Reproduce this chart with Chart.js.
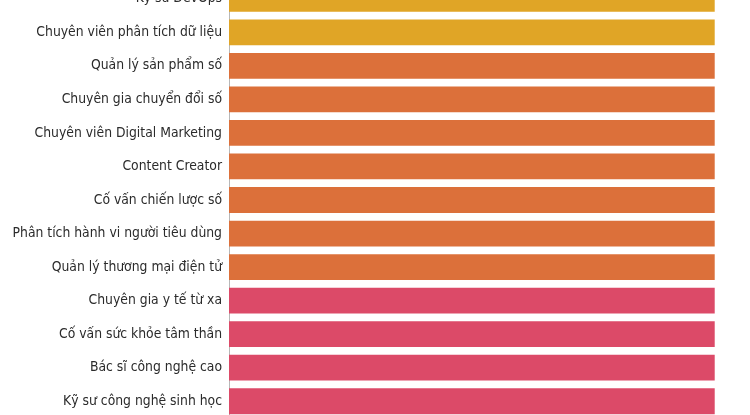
<!DOCTYPE html>
<html>
<head>
<meta charset="utf-8">
<script src="https://cdn.jsdelivr.net/npm/chart.js@4/dist/chart.umd.min.js"></script>
<style>
  html, body { margin: 0; padding: 0; background: #fff; }
  #frame { position: relative; width: 750px; height: 415px; overflow: hidden; background: #fff; }
  #box { position: absolute; left: 0; top: -18px; width: 739px; height: 436px; }
</style>
</head>
<body>
<div id="frame">
  <div id="box"><canvas id="jobs"></canvas></div>
</div>
<script>
// jobs visible in the cropped part of the chart, top to bottom
const jobs = [
  'Kỹ sư DevOps',
  'Chuyên viên phân tích dữ liệu',
  'Quản lý sản phẩm số',
  'Chuyên gia chuyển đổi số',
  'Chuyên viên Digital Marketing',
  'Content Creator',
  'Cố vấn chiến lược số',
  'Phân tích hành vi người tiêu dùng',
  'Quản lý thương mại điện tử',
  'Chuyên gia y tế từ xa',
  'Cố vấn sức khỏe tâm thần',
  'Bác sĩ công nghệ cao',
  'Kỹ sư công nghệ sinh học'
];
const jobValues = [100, 100, 100, 100, 100, 100, 100, 100, 100, 100, 100, 100, 100];
const jobGroups = ['it', 'it', 'digital', 'digital', 'digital', 'digital', 'digital', 'digital', 'digital', 'health', 'health', 'health', 'health'];

const groupColor = { it: '#E0A526', digital: '#DC703A', health: '#DC4A68' };

// drop the extra room Chart.js keeps for half a label above/below the axis
const noEdgePad = (scale) => {
  scale.paddingTop = 0;
  scale.paddingBottom = 0;
};

let ctx = document.getElementById('jobs').getContext('2d');

let myChart = new Chart(ctx, {
  type: 'bar',
  data: {
    labels: jobs,
    datasets: [{
      data: jobValues,
      backgroundColor: jobGroups.map((g) => groupColor[g]),
      borderWidth: 0,
      barPercentage: 0.77,
      categoryPercentage: 1
    }]
  },
  options: {
    indexAxis: 'y',
    responsive: true,
    maintainAspectRatio: false,
    animation: false,
    layout: { padding: 0 },
    plugins: { legend: { display: false }, tooltip: { enabled: false } },
    scales: {
      x: {
        display: false,
        min: 0,
        max: 105
      },
      y: {
        offset: true,
        grid: { display: false, drawTicks: false },
        border: { display: true, color: '#b8b8b8', width: 1 },
        ticks: {
          padding: 7,
          color: '#2b2b2b',
          font: { family: "'DejaVu Sans Condensed', 'DejaVu Sans'", size: 13.8 }
        },
        afterFit: (scale) => {
          scale.width = 229;
          noEdgePad(scale);
        }
      },
      y2: {
        position: 'right',
        type: 'category',
        labels: jobs,
        offset: true,
        grid: { display: false, drawTicks: false },
        border: { display: true, color: '#cfcfcf', width: 1 },
        ticks: { display: false },
        afterFit: (scale) => {
          scale.width = 0;
          noEdgePad(scale);
        }
      }
    }
  }
});
</script>
</body>
</html>
